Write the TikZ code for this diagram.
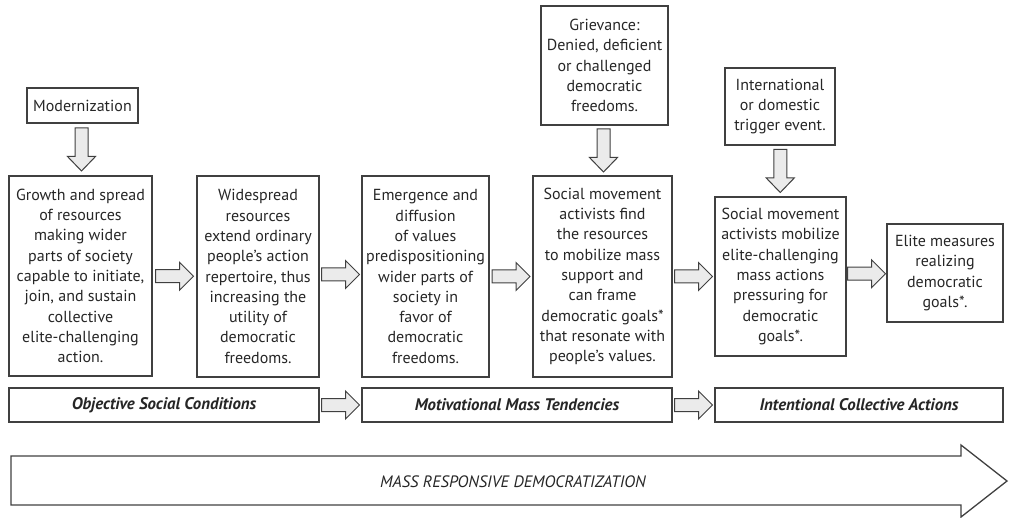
\documentclass[tikz,border=0pt]{standalone}
\usepackage{fontspec}
\setmainfont{PT Sans}
\usetikzlibrary{calc}

\tikzset{
  stagebox/.style={draw=black!75, line width=1.2pt, align=center, inner sep=0pt, text=black!85, font=\fontsize{16}{20.3}\selectfont},
  phasebar/.style={draw=black!75, line width=1.2pt, minimum height=34pt, inner sep=0pt, text=black!85, font=\fontsize{16.8}{19}\selectfont\bfseries\itshape},
  blockfill/.style={draw=black!75, line width=1pt, fill=black!8},
  rarrow/.pic={\filldraw[blockfill] (-19,-6.5) -- (5,-6.5) -- (5,-14) -- (19,0) -- (5,14) -- (5,6.5) -- (-19,6.5) -- cycle;},
  darrow/.pic={\filldraw[blockfill] (-6.5,-21.5) -- (-6.5,7) -- (-14,7) -- (0,21.5) -- (14,7) -- (6.5,7) -- (6.5,-21.5) -- cycle;}
}

\begin{document}
\begin{tikzpicture}[x=1pt, y=-1pt]
\useasboundingbox (0,0) rectangle (1009,518);

\node[stagebox, minimum width=111pt, minimum height=35pt] (modern) at (82.5,105.5) {Modernization};
\node[stagebox, minimum width=127pt, minimum height=119pt] (grievance) at (604.5,65.5) {Grievance:\\Denied, deficient\\or challenged\\democratic\\freedoms.};
\node[stagebox, minimum width=110pt, minimum height=77pt] (trigger) at (780,106.5) {International\\or domestic\\trigger event.};

\node[stagebox, minimum width=143pt, minimum height=200pt] (growth) at (80.5,276) {Growth and spread\\of resources\\making wider\\parts of society\\capable to initiate,\\join, and sustain\\collective\\elite-challenging\\action.};
\node[stagebox, minimum width=122pt, minimum height=201pt] (spread) at (258,276.5) {Widespread\\resources\\extend ordinary\\people's action\\repertoire, thus\\increasing the\\utility of\\democratic\\freedoms.};
\node[stagebox, minimum width=127pt, minimum height=201pt] (values) at (425.5,276.5) {Emergence and\\diffusion\\of values\\predispositioning\\wider parts of\\society in\\favor of\\democratic\\freedoms.};
\node[stagebox, minimum width=139pt, minimum height=201pt] (activists) at (602.5,276.5) {Social movement\\activists find\\the resources\\to mobilize mass\\support and\\can frame\\democratic goals*\\that resonate with\\people's values.};
\node[stagebox, minimum width=131pt, minimum height=159pt] (mobilize) at (780.5,276.5) {Social movement\\activists mobilize\\elite-challenging\\mass actions\\pressuring for\\democratic\\goals*.};
\node[stagebox, minimum width=116pt, minimum height=98pt] (elite) at (945,273) {Elite measures\\realizing\\democratic\\goals*.};

\pic at ($(modern.south)!.5!(growth.north)$) {darrow};
\pic at ($(grievance.south)!.5!(activists.north)$) {darrow};
\pic at ($(trigger.south)!.5!(mobilize.north)$) {darrow};

\pic at ($(growth.east)!.5!(spread.west)$) {rarrow};
\pic at ($(spread.east)!.5!(values.west)+(0,-2)$) {rarrow};
\pic at ($(values.east)!.5!(activists.west)$) {rarrow};
\pic at ($(activists.east)!.5!(mobilize.west)$) {rarrow};
\pic at ($(mobilize.east)!.5!(elite.west)+(0,-1)$) {rarrow};

\node[phasebar, minimum width=310pt] (objective) at (164,405) {Objective Social Conditions};
\node[phasebar, minimum width=310pt] (motivation) at (517,405) {Motivational Mass Tendencies};
\node[phasebar, minimum width=288pt] (intention) at (859,405) {Intentional Collective Actions};

\pic at ($(objective.east)!.5!(motivation.west)$) {rarrow};
\pic at ($(motivation.east)!.5!(intention.west)$) {rarrow};

\draw[draw=black!75, line width=1.3pt] (11,456) -- (961,456) -- (961,445) -- (1007,481) -- (961,517) -- (961,505) -- (11,505) -- cycle;
\node[text=black!85, font=\fontsize{16.5}{18}\selectfont\itshape] (democratization) at (513,482) {MASS RESPONSIVE DEMOCRATIZATION};

\end{tikzpicture}
\end{document}
